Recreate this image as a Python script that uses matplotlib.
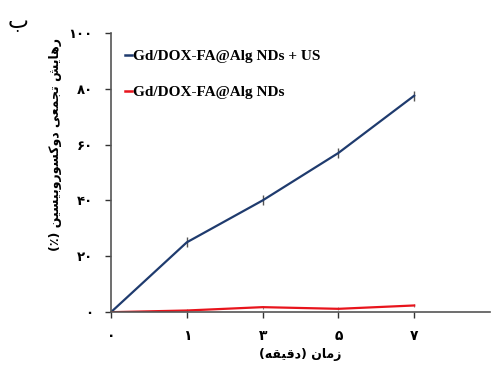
import matplotlib
matplotlib.use("Agg")
import matplotlib.pyplot as plt
from matplotlib.lines import Line2D

# ---------- data ----------
x_labels = ["۰", "۱", "۳", "۵", "۷"]
y_ticks = [0, 20, 40, 60, 80, 100]
y_tick_labels = ["۰", "۲۰", "۴۰", "۶۰", "۸۰", "۱۰۰"]
us_values = [0, 25, 40, 57, 77.5]
us_err = [0, 1.8, 1.8, 1.8, 1.8]
plain_values = [0, 0.6, 1.8, 1.2, 2.4]
plain_err = [0, 0.5, 0.5, 0.5, 0.5]
series_names = ["Gd/DOX-FA@Alg NDs + US", "Gd/DOX-FA@Alg NDs"]
ylabel_text = "رهایش تجمعی دوکسوروبیسین (٪)"
xlabel_text = "زمان (دقیقه)"
panel_text = "ب"

# ---------- minimal Arabic/Persian shaping ----------
FORMS = {
    'ا': ('\uFE8D', '\uFE8E', None, None),
    'ب': ('\uFE8F', '\uFE90', '\uFE91', '\uFE92'),
    'ت': ('\uFE95', '\uFE96', '\uFE97', '\uFE98'),
    'ج': ('\uFE9D', '\uFE9E', '\uFE9F', '\uFEA0'),
    'د': ('\uFEA9', '\uFEAA', None, None),
    'ر': ('\uFEAD', '\uFEAE', None, None),
    'ز': ('\uFEAF', '\uFEB0', None, None),
    'س': ('\uFEB1', '\uFEB2', '\uFEB3', '\uFEB4'),
    'ش': ('\uFEB5', '\uFEB6', '\uFEB7', '\uFEB8'),
    'ع': ('\uFEC9', '\uFECA', '\uFECB', '\uFECC'),
    'ق': ('\uFED5', '\uFED6', '\uFED7', '\uFED8'),
    'م': ('\uFEE1', '\uFEE2', '\uFEE3', '\uFEE4'),
    'ن': ('\uFEE5', '\uFEE6', '\uFEE7', '\uFEE8'),
    'ه': ('\uFEE9', '\uFEEA', '\uFEEB', '\uFEEC'),
    'و': ('\uFEED', '\uFEEE', None, None),
    'ی': ('\uFEEF', '\uFEF0', '\uFEF3', '\uFEF4'),
    'ک': ('\uFB8E', '\uFB8F', '\uFB90', '\uFB91'),
}


def shape(text):
    out = []
    n = len(text)
    for i, ch in enumerate(text):
        if ch not in FORMS:
            out.append(ch)
            continue
        iso, fin, ini, med = FORMS[ch]
        prev = text[i - 1] if i > 0 else None
        nxt = text[i + 1] if i < n - 1 else None
        join_prev = prev in FORMS and FORMS[prev][2] is not None
        join_next = nxt in FORMS and ini is not None
        if join_prev and join_next:
            out.append(med)
        elif join_prev:
            out.append(fin)
        elif join_next:
            out.append(ini)
        else:
            out.append(iso)
    vis = ''.join(reversed(out))
    swap = {'(': ')', ')': '('}
    return ''.join(swap.get(c, c) for c in vis)


# ---------- figure ----------
fig = plt.figure(figsize=(4.91, 3.69), dpi=100)
ax = fig.add_axes([0.226, 0.154, 0.772, 0.757])

xs = list(range(len(x_labels)))
blue = "#1f3b6e"
red = "#e8141c"
ax.errorbar(xs, us_values, yerr=us_err, color=blue, lw=1.6, ecolor="#555555",
            elinewidth=1.0, capsize=0)
ax.errorbar(xs, plain_values, yerr=plain_err, color=red, lw=1.6, ecolor="#888888",
            elinewidth=0.8, capsize=0)

ax.set_xlim(0, 5)
ax.set_ylim(0, 100)
ax.set_xticks(xs)
ax.set_xticklabels(x_labels, fontsize=10, fontweight="bold", family="DejaVu Sans")
ax.set_yticks(y_ticks)
ax.set_yticklabels(y_tick_labels, fontsize=9.5, fontweight="bold", family="DejaVu Sans")
ax.tick_params(axis="x", direction="out", length=4, width=1, colors="#333333", pad=8)
ax.tick_params(axis="y", direction="out", length=4, width=1, colors="#333333", pad=9)
for lab in ax.get_xticklabels() + ax.get_yticklabels():
    lab.set_color("black")
for s in ("top", "right"):
    ax.spines[s].set_visible(False)
for s in ("left", "bottom"):
    ax.spines[s].set_color("#555555")
    ax.spines[s].set_linewidth(1.2)

ax.set_ylabel(shape(ylabel_text), fontsize=9, fontweight="bold",
              family="DejaVu Sans")
ax.yaxis.set_label_coords(-0.129, 0.6)
ax.set_xlabel(shape(xlabel_text), fontsize=9, fontweight="bold",
              family="DejaVu Sans", labelpad=4)

handles = [Line2D([], [], color=blue, lw=1.8), Line2D([], [], color=red, lw=1.8)]
leg = ax.legend(handles, series_names, loc="upper left", bbox_to_anchor=(0.0, 0.99),
                frameon=False, handlelength=0.5, handletextpad=0.05, labelspacing=1.45,
                prop={"family": "Liberation Serif", "weight": "bold", "size": 11})

fig.text(0.016, 0.925, shape(panel_text), fontsize=16, family="DejaVu Sans")

fig.savefig("out.png", dpi=100)
